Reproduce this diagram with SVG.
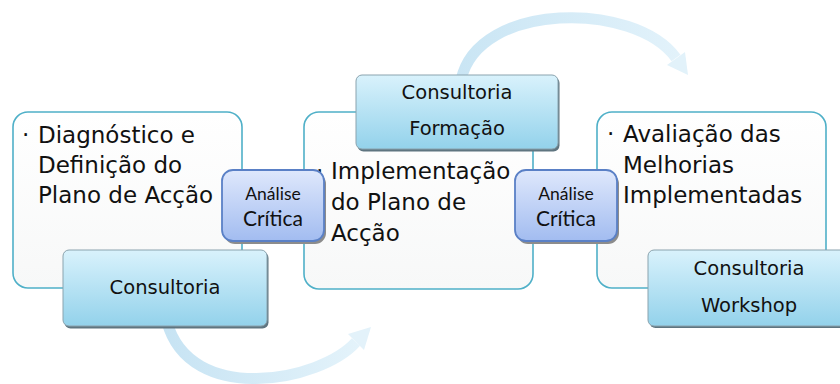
<svg xmlns="http://www.w3.org/2000/svg" width="840" height="384" viewBox="0 0 840 384">
<defs>
  <linearGradient id="gBig" x1="0" y1="0" x2="0" y2="1">
    <stop offset="0" stop-color="#ffffff"/>
    <stop offset="1" stop-color="#f7f8f8"/>
  </linearGradient>
  <linearGradient id="gCons" x1="0" y1="0" x2="0" y2="1">
    <stop offset="0" stop-color="#d9f2fc"/>
    <stop offset="1" stop-color="#93d2eb"/>
  </linearGradient>
  <linearGradient id="gAn" x1="0" y1="0" x2="0" y2="1">
    <stop offset="0" stop-color="#dfe8fc"/>
    <stop offset="1" stop-color="#a2bcf0"/>
  </linearGradient>
  <linearGradient id="gArrB" x1="160" y1="0" x2="375" y2="0" gradientUnits="userSpaceOnUse">
    <stop offset="0" stop-color="#c6e3f3"/>
    <stop offset="1" stop-color="#e6f4fb"/>
  </linearGradient>
  <linearGradient id="gArrT" x1="455" y1="0" x2="695" y2="0" gradientUnits="userSpaceOnUse">
    <stop offset="0" stop-color="#c9e5f4"/>
    <stop offset="1" stop-color="#e4f3fb"/>
  </linearGradient>
</defs>
<style>
  .big { fill: url(#gBig); stroke: #4fb0c8; stroke-width: 1.6; }
  .bigtxt { font-family: "DejaVu Sans", "Liberation Sans", sans-serif; font-size: 23px; fill: #111; }
  .consShadow { fill: #5f7580; }
  .cons { fill: url(#gCons); stroke: #8aa3ae; stroke-width: 1; }
  .constxt { font-family: "DejaVu Sans", "Liberation Sans", sans-serif; font-size: 19.5px; fill: #111; text-anchor: middle; }
  .anShadow { fill: #8c8c8c; }
  .an { fill: url(#gAn); stroke: #5a80c6; stroke-width: 1.8; }
  .antxt1 { font-family: Lato, "Liberation Sans", sans-serif; font-size: 17.5px; fill: #111; text-anchor: middle; }
  .antxt2 { font-family: Lato, "Liberation Sans", sans-serif; font-size: 21px; fill: #111; text-anchor: middle; }
  .arrowBand { fill: none; stroke-width: 11; }
</style>

<g id="connectors">
  <g id="arrow-bottom">
    <path class="arrowBand" stroke="url(#gArrB)" d="M167,322 C190,406 320,382 356,342"/>
    <polygon fill="#e3f2fa" points="364,350 348,334 371,327"/>
  </g>
  <g id="arrow-top">
    <path class="arrowBand" stroke="url(#gArrT)" d="M461,80 C478,1 635,1 676,58"/>
    <polygon fill="#e2f2fa" points="685,52 667,65 688,75"/>
  </g>
</g>

<g id="node-diagnostico">
  <rect class="big" x="13" y="112" width="229" height="176" rx="15"/>
  <text class="bigtxt" x="22" y="143">·</text>
  <text class="bigtxt" x="38" y="143">Diagnóstico e</text>
  <text class="bigtxt" x="38" y="173">Definição do</text>
  <text class="bigtxt" x="38" y="203">Plano de Acção</text>
</g>

<g id="node-implementacao">
  <rect class="big" x="304" y="112" width="229" height="177" rx="15"/>
  <text class="bigtxt" x="316" y="179">·</text>
  <text class="bigtxt" x="331" y="179">Implementação</text>
  <text class="bigtxt" x="331" y="210">do Plano de</text>
  <text class="bigtxt" x="331" y="241">Acção</text>
</g>

<g id="node-avaliacao">
  <rect class="big" x="597" y="112" width="229" height="176" rx="15"/>
  <text class="bigtxt" x="607" y="142">·</text>
  <text class="bigtxt" x="623" y="142">Avaliação das</text>
  <text class="bigtxt" x="623" y="173">Melhorias</text>
  <text class="bigtxt" x="623" y="203">Implementadas</text>
</g>

<g id="node-consultoria">
  <rect class="consShadow" x="64.5" y="252" width="204" height="76.5" rx="6"/>
  <rect class="cons" x="63" y="250" width="204" height="76" rx="6"/>
  <text class="constxt" x="165" y="294">Consultoria</text>
</g>

<g id="node-consultoria-formacao">
  <rect class="consShadow" x="357.5" y="77" width="202" height="74.5" rx="6"/>
  <rect class="cons" x="356" y="75" width="202" height="74" rx="6"/>
  <text class="constxt" x="457" y="99">Consultoria</text>
  <text class="constxt" x="457" y="135">Formação</text>
</g>

<g id="node-consultoria-workshop">
  <rect class="consShadow" x="649.5" y="252" width="202" height="76" rx="6"/>
  <rect class="cons" x="648" y="250" width="202" height="76" rx="6"/>
  <text class="constxt" x="749" y="275">Consultoria</text>
  <text class="constxt" x="749" y="312">Workshop</text>
</g>

<g id="node-analise-1">
  <rect class="anShadow" x="224" y="173" width="102" height="71" rx="11"/>
  <rect class="an" x="222" y="170" width="102" height="71" rx="11"/>
  <text class="antxt1" x="273" y="200">Análise</text>
  <text class="antxt2" x="273" y="226">Crítica</text>
</g>

<g id="node-analise-2">
  <rect class="anShadow" x="517" y="173" width="102" height="71" rx="11"/>
  <rect class="an" x="515" y="170" width="102" height="71" rx="11"/>
  <text class="antxt1" x="566" y="200">Análise</text>
  <text class="antxt2" x="566" y="226">Crítica</text>
</g>
</svg>
